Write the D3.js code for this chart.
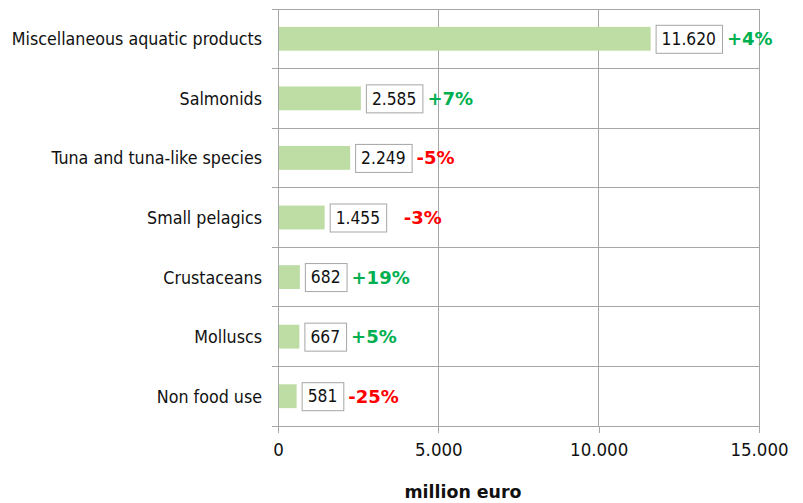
<!DOCTYPE html>
<html><head><meta charset="utf-8">
<script src="https://cdn.jsdelivr.net/npm/d3@7"></script>
<style>body{margin:0;background:#fff}svg{display:block}</style>
</head><body><svg id="c" width="803" height="503"></svg>
<script>
const categories = ["Miscellaneous aquatic products","Salmonids","Tuna and tuna-like species","Small pelagics","Crustaceans","Molluscs","Non food use"];
const values = [11620, 2585, 2249, 1455, 682, 667, 581];
const changes = ["+4%", "+7%", "-5%", "  -3%", "+19%", "+5%", "-25%"];
const xTicks = [0, 5000, 10000, 15000];
const xTitle = "million euro";

const FONT = "'DejaVu Sans Condensed', 'DejaVu Sans', sans-serif";
const BFONT = "'DejaVu Sans', sans-serif";
const svg = d3.select("#c");
const m = {l: 278, r: 759, t: 9, b: 426};
const x = d3.scaleLinear().domain([0, 15000]).range([m.l, m.r]);
const y = d3.scaleBand().domain(categories).range([m.t, m.b]).paddingInner(0.6).paddingOuter(0.3);
const step = y.step();
const loc = d3.formatLocale({decimal: ",", thousands: ".", grouping: [3], currency: ["", ""]});
const fmt = loc.format(",d");
const grid = "#a6a6a6";

// vertical gridlines
svg.append("g").selectAll("line").data(xTicks.slice(1)).join("line")
  .attr("x1", d => x(d)).attr("x2", d => x(d)).attr("y1", m.t).attr("y2", m.b)
  .attr("stroke", grid).attr("shape-rendering", "crispEdges");
// horizontal gridlines at category boundaries
const bounds = d3.range(categories.length + 1).map(i => m.t + i * step);
svg.append("g").selectAll("line").data(bounds).join("line")
  .attr("x1", m.l - 6).attr("x2", m.r).attr("y1", d => d).attr("y2", d => d)
  .attr("stroke", grid).attr("shape-rendering", "crispEdges");

// x axis
const xa = svg.append("g").attr("transform", `translate(0,${m.b})`)
  .call(d3.axisBottom(x).tickValues(xTicks).tickFormat(d => d === 0 ? "0" : fmt(d)).tickSize(7).tickPadding(10));
xa.select(".domain").remove();
xa.selectAll("line").attr("stroke", grid).attr("shape-rendering", "crispEdges");
xa.selectAll("text").attr("font-family", FONT).attr("font-size", 18.5).attr("fill", "#111");

// y axis line
svg.append("line").attr("x1", m.l).attr("x2", m.l).attr("y1", m.t).attr("y2", m.b + 7)
  .attr("stroke", grid).attr("shape-rendering", "crispEdges");

// category labels
svg.append("g").selectAll("text").data(categories).join("text")
  .attr("x", 262).attr("y", d => y(d) + y.bandwidth() / 2).attr("dy", "0.37em")
  .attr("text-anchor", "end").attr("font-family", FONT).attr("font-size", 17.7).attr("fill", "#111")
  .text(d => d);

// bars
svg.append("g").selectAll("rect").data(values).join("rect")
  .attr("x", x(0) + 1).attr("y", (d, i) => y(categories[i]))
  .attr("width", d => x(d) - x(0) - 1).attr("height", y.bandwidth())
  .attr("fill", "#bddda5");

// value labels with boxes
const lab = svg.append("g").selectAll("g").data(values).join("g")
  .attr("transform", (d, i) => `translate(${x(d) + 5},${y(categories[i]) + y.bandwidth() / 2})`);
lab.append("text").attr("x", 6).attr("dy", "0.36em")
  .attr("font-family", FONT).attr("font-size", 17.3).attr("fill", "#111").text(d => fmt(d));
lab.each(function(d, i) {
  const g = d3.select(this);
  const w = g.select("text").node().getComputedTextLength() + 12;
  g.insert("rect", "text").attr("x", 0.5).attr("y", -13.5).attr("width", w).attr("height", 28)
    .attr("fill", "#fff").attr("stroke", "#a6a6a6");
  g.append("text").attr("x", w + 5).attr("dy", "0.36em")
    .attr("xml:space", "preserve").style("white-space", "pre")
    .attr("font-family", BFONT).attr("font-size", 18).attr("font-weight", "bold")
    .attr("fill", changes[i].trim().startsWith("-") ? "#ff0000" : "#00b050")
    .text(changes[i]);
});

// x title
svg.append("text").attr("x", 463).attr("y", 498).attr("text-anchor", "middle")
  .attr("font-family", BFONT).attr("font-size", 17.4).attr("font-weight", "bold").attr("fill", "#111")
  .text(xTitle);
</script></body></html>
